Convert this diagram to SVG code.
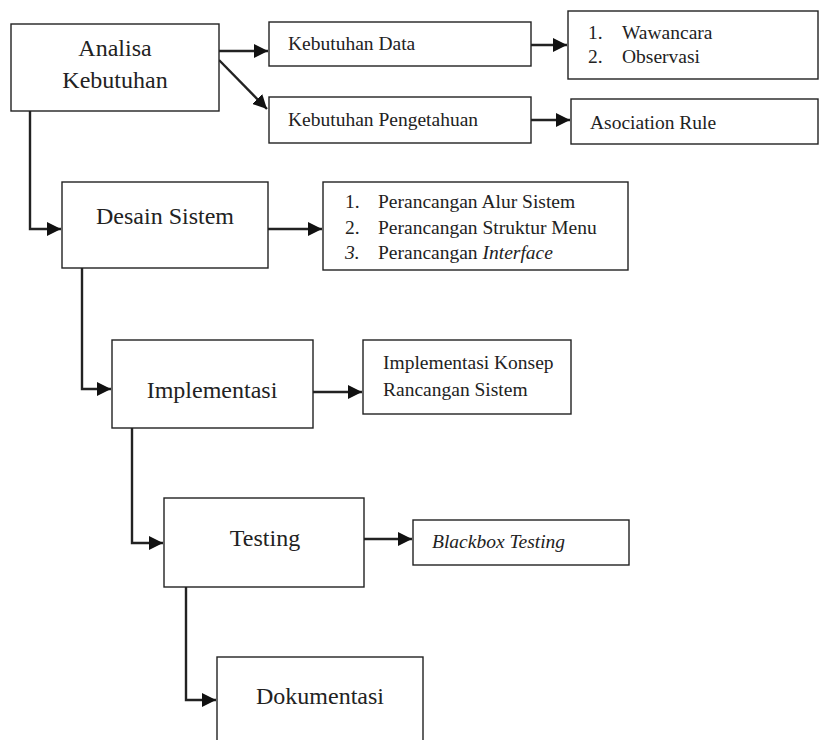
<svg xmlns="http://www.w3.org/2000/svg" width="821" height="740" viewBox="0 0 821 740">
<style>
  .box { fill: #fff; stroke: #222; stroke-width: 1.4; }
  .big { font-family: "Liberation Serif", "Times New Roman", serif; font-size: 24px; fill: #222; }
  .sm { font-family: "Liberation Serif", "Times New Roman", serif; font-size: 19.5px; fill: #222; }
  .it { font-style: italic; }
  .conn { fill: none; stroke: #222; stroke-width: 2.4; }
</style>
<defs>
  <marker id="arr" markerUnits="userSpaceOnUse" markerWidth="15" markerHeight="14" refX="14" refY="7" orient="auto">
    <path d="M0,0 L14,7 L0,14 Z" fill="#111"/>
  </marker>
</defs>
<rect width="821" height="740" fill="#fff"/>

<g id="connectors">
  <line class="conn" x1="219" y1="51" x2="268" y2="51" marker-end="url(#arr)"/>
  <line class="conn" x1="219" y1="60" x2="267" y2="109" marker-end="url(#arr)"/>
  <line class="conn" x1="531" y1="45" x2="567" y2="45" marker-end="url(#arr)"/>
  <line class="conn" x1="531" y1="120" x2="570" y2="120" marker-end="url(#arr)"/>
  <polyline class="conn" points="30,111 30,229 61,229" marker-end="url(#arr)"/>
  <line class="conn" x1="268" y1="229" x2="322" y2="229" marker-end="url(#arr)"/>
  <polyline class="conn" points="82,268 82,389 111,389" marker-end="url(#arr)"/>
  <line class="conn" x1="313" y1="392" x2="362" y2="392" marker-end="url(#arr)"/>
  <polyline class="conn" points="132,428 132,543 163,543" marker-end="url(#arr)"/>
  <line class="conn" x1="364" y1="539" x2="412" y2="539" marker-end="url(#arr)"/>
  <polyline class="conn" points="186,587 186,700 216,700" marker-end="url(#arr)"/>
</g>

<g id="analisa">
  <rect class="box" x="11" y="24" width="208" height="87"/>
  <text class="big" x="115" y="56" text-anchor="middle">Analisa</text>
  <text class="big" x="115" y="88" text-anchor="middle">Kebutuhan</text>
</g>
<g id="kebutuhan-data">
  <rect class="box" x="269" y="22" width="262" height="44"/>
  <text class="sm" x="288" y="50">Kebutuhan Data</text>
</g>
<g id="kebutuhan-pengetahuan">
  <rect class="box" x="269" y="97" width="262" height="46"/>
  <text class="sm" x="288" y="126">Kebutuhan Pengetahuan</text>
</g>
<g id="data-list">
  <rect class="box" x="568" y="11" width="250" height="68"/>
  <text class="sm" x="588" y="39">1.</text>
  <text class="sm" x="622" y="39">Wawancara</text>
  <text class="sm" x="588" y="63">2.</text>
  <text class="sm" x="622" y="63">Observasi</text>
</g>
<g id="asociation-rule">
  <rect class="box" x="571" y="99" width="247" height="45"/>
  <text class="sm" x="590" y="129">Asociation Rule</text>
</g>
<g id="desain">
  <rect class="box" x="62" y="182" width="206" height="86"/>
  <text class="big" x="165" y="224" text-anchor="middle">Desain Sistem</text>
</g>
<g id="desain-list">
  <rect class="box" x="323" y="182" width="305" height="88"/>
  <text class="sm" x="345" y="208">1.</text>
  <text class="sm" x="378" y="208">Perancangan Alur Sistem</text>
  <text class="sm" x="345" y="234">2.</text>
  <text class="sm" x="378" y="234">Perancangan Struktur Menu</text>
  <text class="sm it" x="345" y="259">3.</text>
  <text class="sm" x="378" y="259">Perancangan <tspan class="it">Interface</tspan></text>
</g>
<g id="implementasi">
  <rect class="box" x="112" y="340" width="201" height="88"/>
  <text class="big" x="212" y="398" text-anchor="middle">Implementasi</text>
</g>
<g id="implementasi-konsep">
  <rect class="box" x="363" y="340" width="208" height="74"/>
  <text class="sm" x="383" y="369">Implementasi Konsep</text>
  <text class="sm" x="383" y="396">Rancangan Sistem</text>
</g>
<g id="testing">
  <rect class="box" x="164" y="498" width="200" height="89"/>
  <text class="big" x="265" y="546" text-anchor="middle">Testing</text>
</g>
<g id="blackbox">
  <rect class="box" x="413" y="520" width="216" height="45"/>
  <text class="sm it" x="432" y="548">Blackbox Testing</text>
</g>
<g id="dokumentasi">
  <rect class="box" x="217" y="657" width="206" height="100"/>
  <text class="big" x="320" y="704" text-anchor="middle">Dokumentasi</text>
</g>
</svg>
